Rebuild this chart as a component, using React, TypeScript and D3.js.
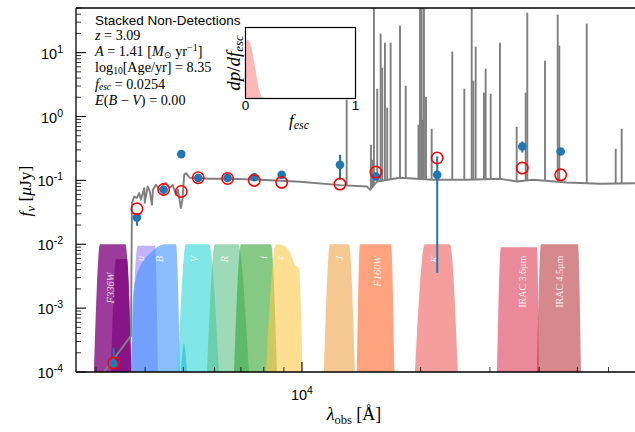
import React from 'react';
import * as d3 from 'd3';

// ---------- photometry ----------
const bandNames = ['F336W', 'u', 'B', 'NB497', 'V', 'R', 'i', 'z', 'J', 'F160W', 'K', 'IRAC 3.6μm', 'IRAC 4.5μm'];
const bandWave = [3327, 3812, 4457, 4940, 5454, 6477, 7567, 8882, 12487, 15411, 22042, 36240, 45350];
const obsFlux = [1.35e-4, 0.0262, 0.0713, 0.258, 0.109, 0.109, 0.112, 0.122, 0.175, 0.115, 0.122, 0.34, 0.284];
const obsErrLo = [1.15e-4, 0.0195, 0.066, 0.245, 0.103, 0.103, 0.106, 0.115, 0.102, 0.108, 0.00357, 0.2735, 0.265];
const obsErrHi = [2.4e-4, 0.031, 0.077, 0.272, 0.116, 0.116, 0.119, 0.129, 0.252, 0.123, 0.237, 0.407, 0.305];
const modelFlux = [1.38e-4, 0.0359, 0.072, 0.067, 0.11, 0.107, 0.1, 0.093, 0.0875, 0.135, 0.224, 0.156, 0.122];

// ---------- model spectrum (continuum) ----------
const specWave = [3034, 3681, 3703, 3753, 3812, 3864, 3902, 3978, 3990, 4058, 4113, 4162, 4186, 4260, 4360, 4437,
  4516, 4623, 4696, 4787, 4844, 4930, 4973, 5026, 5076, 5196, 5382, 5842, 6568, 7824, 9884, 12488, 14623, 14881,
  15144, 15502, 17735, 21500, 26233, 31805, 35131, 38578, 47062, 57050, 72103];
const specFlux = [7.5e-5, 3.67e-4, 0.0446, 0.0559, 0.0534, 0.0632, 0.0497, 0.0757, 0.0446, 0.0803, 0.0663, 0.0415,
  0.0712, 0.0853, 0.0712, 0.085, 0.0907, 0.0766, 0.0853, 0.0595, 0.0712, 0.0368, 0.05, 0.1224, 0.1302, 0.1099, 0.1087,
  0.106, 0.106, 0.1022, 0.0951, 0.0844, 0.0803, 0.0712, 0.0803, 0.0961, 0.1099, 0.1022, 0.1022, 0.106, 0.0961,
  0.1022, 0.0927, 0.0885, 0.0907];

// ---------- emission lines ----------
const lineWave = [12985, 14967, 15081, 15229, 15526, 15838, 15987, 16241, 16460, 16791, 17735, 18336, 19755, 19928,
  20128, 20284, 20400, 20640, 21339, 24069, 25825, 26962, 27215, 27599, 28964, 29253, 30121, 31805, 35069, 36969,
  37316, 41383, 44569, 44988, 52812, 62552, 64780];
const linePeak = [1.834, 0.361, 0.21, 200, 2.727, 19.86, 5.82, 14.35, 1.374, 14.35, 26.5, 3.04, 0.744, 200, 200, 0.891,
  200, 2.043, 0.644, 10.37, 2.727, 200, 3.64, 12.42, 2.36, 5.61, 2.278, 14.35, 0.692, 2.36, 42.4, 7.49, 39.4, 12.87,
  28.5, 0.313, 0.644];

// ---------- filter curves ----------
const filterLabels = ['F336W', '', 'u', 'B', '', 'V', 'R', 'i', 'z', 'J', 'F160W', 'K', 'IRAC 3.6μm', 'IRAC 4.5μm'];
const filterWave = [
  [2966, 3072, 3565, 3692],
  [3275, 3373, 3597, 3692],
  [3681, 3830, 4235, 4310],
  [3681, 3724, 3790, 3880, 3995, 4113, 4235, 4360, 4490, 4790, 4902],
  [4930, 5017, 5106],
  [4844, 5077, 5807, 6157],
  [5740, 6015, 6880, 7334],
  [6721, 7002, 8344, 8641],
  [8101, 8592, 9000, 9323, 9599, 9826, 10030],
  [11372, 11778, 13160, 13629],
  [13790, 14036, 16823, 17174],
  [19361, 20518, 23743, 24875],
  [31262, 31992, 39487, 39953],
  [39487, 40420, 50175, 51075],
];
const filterTrans = [
  [0.01, 1, 1, 0.01],
  [0.01, 0.59, 0.59, 0.01],
  [0.01, 0.95, 0.95, 0.01],
  [0.01, 0.15, 0.3, 0.45, 0.6, 0.72, 0.85, 0.95, 1, 1, 0.01],
  [0.01, 0.0285, 0.01],
  [0.01, 1, 1, 0.01],
  [0.01, 1, 1, 0.01],
  [0.01, 1, 1, 0.01],
  [0.01, 1, 0.95, 0.75, 0.48, 0.42, 0.01],
  [0.01, 1, 1, 0.01],
  [0.01, 1, 1, 0.01],
  [0.01, 1, 1, 0.01],
  [0.01, 0.9, 0.9, 0.01],
  [0.01, 1, 1, 0.01],
];
const filterLabelWave = [3275, 0, 3902, 4360, 0, 5351, 6375, 8007, 8794, 12488, 15593, 21757, 36184, 45168];

// styles
const filterColors = ['rgb(130,11,130)', 'rgb(130,11,130)', 'rgb(155,130,247)', 'rgb(63,147,255)', 'rgb(30,130,220)',
  'rgb(43,213,213)', 'rgb(93,192,137)', 'rgb(52,165,52)', 'rgb(253,200,72)', 'rgb(237,163,70)', 'rgb(255,100,38)',
  'rgb(238,93,93)', 'rgb(218,58,85)', 'rgb(185,58,63)'];
const filterAlpha = [0.8, 0.8, 0.6, 0.6, 0.6, 0.6, 0.6, 0.6, 0.6, 0.6, 0.6, 0.6, 0.6, 0.6];

// ---------- f_esc posterior ----------
const fescGrid = [0, 0.01, 0.02, 0.03, 0.04, 0.05, 0.06, 0.07, 0.08, 0.09, 0.1, 0.11, 0.12, 0.13, 0.14, 0.15, 0.2, 1.0];
const fescDens = [0.78, 0.82, 0.83, 0.82, 0.79, 0.74, 0.67, 0.59, 0.5, 0.41, 0.32, 0.23, 0.15, 0.09, 0.045, 0.02, 0, 0];

const yMajor = [-4, -3, -2, -1, 0, 1];

const SANS = 'Liberation Sans, Arial, Helvetica, sans-serif';
const SERIF = 'Liberation Serif, Times New Roman, serif';

export default function App() {
  const L = 76, R = 636, T = 8, B = 372;
  const x = d3.scaleLog().domain([2670, 70430]).range([L, R]);
  const y = d3.scaleLog().domain([1e-4, 50]).range([B, T]);

  const area = d3.area<[number, number]>()
    .x((d) => x(d[0]))
    .y0(B)
    .y1((d) => y(0.01 * d[1]))
    .curve(d3.curveMonotoneX);

  const specLine = d3.line<number>()
    .x((_, i) => x(specWave[i]))
    .y((d) => y(d));

  const contAt = (lam: number) => {
    let i = d3.bisectRight(specWave, lam);
    i = Math.max(1, Math.min(specWave.length - 1, i));
    const a = Math.log(specWave[i - 1]), b = Math.log(specWave[i]);
    const t = (Math.log(lam) - a) / (b - a);
    return Math.exp(Math.log(specFlux[i - 1]) + t * (Math.log(specFlux[i]) - Math.log(specFlux[i - 1])));
  };

  // ticks
  const yMinor: number[] = [];
  for (let k = -4; k <= 1; k++) for (let m = 2; m <= 9; m++) { const v = m * Math.pow(10, k); if (v <= 50) yMinor.push(v); }
  const xMinor = [3000, 4000, 5000, 6000, 7000, 8000, 9000, 20000, 30000, 40000, 50000, 60000];

  const xi = d3.scaleLinear().domain([0, 1]).range([245.5, 355.5]);
  const yi = d3.scaleLinear().domain([0, 1]).range([98.5, 27.5]);
  const inArea = d3.area<number>()
    .x((_, i) => xi(fescGrid[i]))
    .y0(yi(0))
    .y1((d) => yi(d))
    .curve(d3.curveMonotoneX);

  const labelTop = (i: number) => (i === 0 ? y(3.6e-3) : y(6.6e-3));

  return (
    <svg width={635} height={432} style={{ position: 'absolute', left: 0, top: 0, background: '#fff' }}>
      <defs>
        <clipPath id="plotclip">
          <rect x={L} y={T} width={R - L} height={B - T} />
        </clipPath>
      </defs>
      <rect x={0} y={0} width={635} height={432} fill="#fff" />

      <g clipPath="url(#plotclip)">
        {/* filters */}
        {filterWave.map((w, fi) => (
          <path key={'f' + fi}
            d={area(w.map((l, j) => [l, filterTrans[fi][j]] as [number, number])) || ''}
            fill={filterColors[fi]} fillOpacity={filterAlpha[fi]} stroke="none" />
        ))}
        {filterLabels.map((lab, fi) => lab ? (
          <text key={'fl' + fi}
            transform={`translate(${x(filterLabelWave[fi])},${labelTop(fi)}) rotate(-90)`}
            textAnchor="end" dominantBaseline="central"
            fontFamily={SERIF} fontSize={lab.startsWith('IRAC') ? 10 : 10.5}
            fontStyle={lab.startsWith('IRAC') ? 'normal' : 'italic'}
            fill="#fff" fillOpacity={0.85}>{lab}</text>
        ) : null)}

        {/* model spectrum */}
        <path d={specLine(specFlux) || ''} fill="none" stroke="#7f7f7f" strokeWidth={1.9} strokeLinejoin="round" />
        {lineWave.map((lw, i) => (
          <line key={'ln' + i} x1={x(lw)} x2={x(lw)} y1={y(contAt(lw))} y2={y(linePeak[i])}
            stroke="#7f7f7f" strokeWidth={1.9} />
        ))}

        {/* observed photometry */}
        {bandWave.map((bw, i) => (
          <line key={'eb' + i} x1={x(bw)} x2={x(bw)} y1={y(obsErrLo[i])} y2={y(obsErrHi[i])}
            stroke="#1f77b4" strokeWidth={2} />
        ))}
        {bandWave.map((bw, i) => (
          <circle key={'ob' + i} cx={x(bw)} cy={y(obsFlux[i])} r={4.3} fill="#1f77b4" />
        ))}
        {bandWave.map((bw, i) => (
          <circle key={'md' + i} cx={x(bw)} cy={y(modelFlux[i])} r={5.7} fill="none" stroke="#ff0000" strokeWidth={1.6} />
        ))}
      </g>

      {/* axes frame */}
      <line x1={L} x2={R} y1={T} y2={T} stroke="#000" strokeWidth={1.3} />
      <line x1={L} x2={R} y1={B} y2={B} stroke="#000" strokeWidth={1.3} />
      <line x1={L} x2={L} y1={T} y2={B} stroke="#000" strokeWidth={1.3} />

      {/* y ticks */}
      {yMajor.map((e) => (
        <g key={'ym' + e}>
          <line x1={L} x2={L + 10} y1={y(Math.pow(10, e))} y2={y(Math.pow(10, e))} stroke="#000" strokeWidth={1.1} />
          <text x={63} y={y(Math.pow(10, e)) + 6} textAnchor="end" fontFamily={SANS} fontSize={14.5} fill="#000">
            <tspan>10</tspan><tspan dy={-6} fontSize={10.5}>{String(e)}</tspan>
          </text>
        </g>
      ))}
      {yMinor.map((v, i) => (
        <line key={'yn' + i} x1={L} x2={L + 5} y1={y(v)} y2={y(v)} stroke="#000" strokeWidth={0.8} />
      ))}

      {/* x ticks */}
      <line x1={x(1e4)} x2={x(1e4)} y1={B} y2={B - 10} stroke="#000" strokeWidth={1.1} />
      <text x={x(1e4)} y={400} textAnchor="middle" fontFamily={SANS} fontSize={14.5} fill="#000">
        <tspan>10</tspan><tspan dy={-6} fontSize={10.5}>4</tspan>
      </text>
      {xMinor.map((v, i) => (
        <line key={'xn' + i} x1={x(v)} x2={x(v)} y1={B} y2={B - 5} stroke="#000" strokeWidth={0.8} />
      ))}

      {/* axis labels */}
      <text x={354} y={420} textAnchor="middle" fontFamily={SERIF} fontSize={18} fill="#000">
        <tspan fontStyle="italic">λ</tspan><tspan dy={4} fontSize={12.5}>obs</tspan><tspan dy={-4}> [Å]</tspan>
      </text>
      <text transform="translate(31,191) rotate(-90)" textAnchor="middle" fontFamily={SERIF} fontSize={17.5} fill="#000">
        <tspan fontStyle="italic">f</tspan><tspan dy={4} fontSize={12.5} fontStyle="italic">ν</tspan>
        <tspan dy={-4}> [</tspan><tspan fontStyle="italic">μ</tspan><tspan>Jy]</tspan>
      </text>

      {/* info text */}
      <text x={95} y={25} fontFamily={SANS} fontSize={13.5} fill="#000">Stacked Non-Detections</text>
      <g fontFamily={SERIF} fontSize={14.2} fill="#000">
        <text x={95} y={40}><tspan fontStyle="italic">z</tspan> = 3.09</text>
        <text x={95} y={56}>
          <tspan fontStyle="italic">A</tspan> = 1.41 [<tspan fontStyle="italic">M</tspan>
          <tspan dy={2} fontSize={9}>⊙</tspan><tspan dy={-2}> yr</tspan>
          <tspan dy={-5} fontSize={10}>−1</tspan><tspan dy={5}>]</tspan>
        </text>
        <text x={95} y={71.5}>
          log<tspan dy={2} fontSize={9.5}>10</tspan><tspan dy={-2}>[Age/yr] = 8.35</tspan>
        </text>
        <text x={95} y={88.5}>
          <tspan fontStyle="italic">f</tspan><tspan dy={1.5} fontSize={9.5} fontStyle="italic">esc</tspan>
          <tspan dy={-1.5}> = 0.0254</tspan>
        </text>
        <text x={95} y={105}>
          <tspan fontStyle="italic">E</tspan>(<tspan fontStyle="italic">B</tspan> − <tspan fontStyle="italic">V</tspan>) = 0.00
        </text>
      </g>

      {/* inset */}
      <rect x={xi(0)} y={yi(1)} width={xi(1) - xi(0)} height={yi(0) - yi(1)} fill="#fff" />
      <path d={inArea(fescDens) || ''} fill="#ffb9b9" stroke="none" />
      <rect x={xi(0)} y={yi(1)} width={xi(1) - xi(0)} height={yi(0) - yi(1)} fill="none" stroke="#000" strokeWidth={1.2} />
      <text x={xi(0)} y={110} textAnchor="middle" fontFamily={SANS} fontSize={13.5} fill="#000">0</text>
      <text x={xi(1)} y={110} textAnchor="middle" fontFamily={SANS} fontSize={13.5} fill="#000">1</text>
      <text x={299} y={126} textAnchor="middle" fontFamily={SERIF} fontSize={17} fill="#000">
        <tspan fontStyle="italic">f</tspan><tspan dy={3} fontSize={12} fontStyle="italic">esc</tspan>
      </text>
      <text transform="translate(240,63) rotate(-90)" textAnchor="middle" fontFamily={SERIF} fontSize={19} fill="#000">
        <tspan fontStyle="italic">dp</tspan>/<tspan fontStyle="italic">df</tspan><tspan dy={3} fontSize={13} fontStyle="italic">esc</tspan>
      </text>
    </svg>
  );
}
